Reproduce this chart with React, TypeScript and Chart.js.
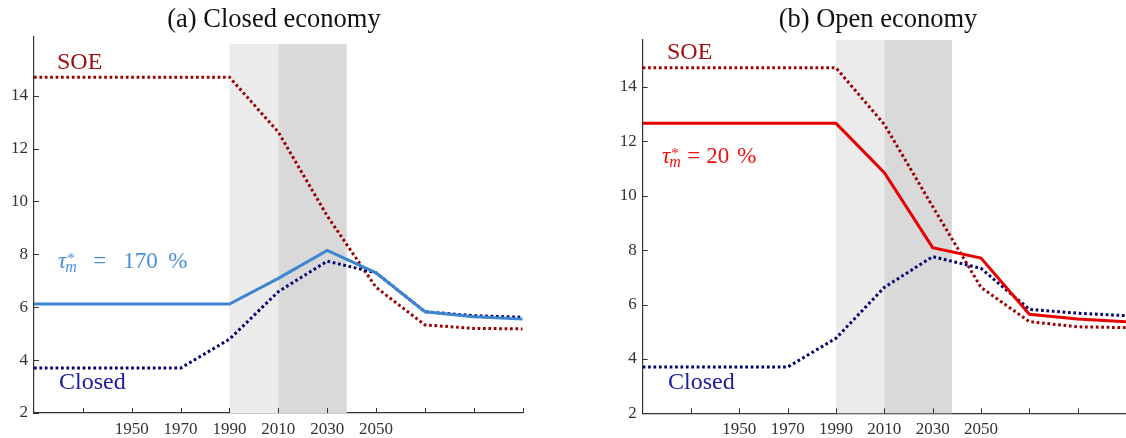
import { useEffect, useRef } from 'react'
import { Chart, registerables } from 'chart.js'
Chart.register(...registerables)

const years = [1910, 1930, 1950, 1970, 1990, 2010, 2030, 2050, 2070, 2090, 2110]
const xTicks = [1930, 1950, 1970, 1990, 2010, 2030, 2050, 2070, 2090, 2110]
const xLabels = [1950, 1970, 1990, 2010, 2030, 2050]
const yTicks = [2, 4, 6, 8, 10, 12, 14]

// panel (a) closed economy
const soeA = [14.7, 14.7, 14.7, 14.7, 14.7, 12.62, 9.45, 6.75, 5.33, 5.2, 5.18]
const closedA = [3.7, 3.7, 3.7, 3.7, 4.79, 6.59, 7.74, 7.3, 5.83, 5.68, 5.62]
const tauA = [6.12, 6.12, 6.12, 6.12, 6.12, 7.09, 8.15, 7.3, 5.83, 5.64, 5.55]

// panel (b) open economy
const soeB = [14.7, 14.7, 14.7, 14.7, 14.7, 12.62, 9.6, 6.63, 5.37, 5.18, 5.15]
const closedB = [3.7, 3.7, 3.7, 3.7, 4.76, 6.63, 7.76, 7.33, 5.82, 5.68, 5.59]
const tauB = [12.66, 12.66, 12.66, 12.66, 12.66, 10.85, 8.09, 7.71, 5.64, 5.47, 5.37]

// shaded periods
const shadeLight = [1990, 2010]
const shadeDark = [2010, 2038]

const SERIF = '"Liberation Serif", "DejaVu Serif", serif'
const C_SOE = '#9a0000'
const C_CLOSED = '#000070'

interface PanelProps {
  left: number
  width: number
  yWidth: number
  padTop: number
  padRight: number
  xHeight: number
  yMax: number
  shadeTop: number
  soe: number[]
  closed: number[]
  tau: number[]
  tauColor: string
}

function Panel(p: PanelProps) {
  const ref = useRef<HTMLCanvasElement>(null)

  useEffect(() => {
    if (!ref.current) return
    const shading = {
      id: 'shading',
      beforeDatasetsDraw(chart: any) {
        const { ctx, scales: { x, y } } = chart
        const top = y.getPixelForValue(p.shadeTop)
        const bot = y.getPixelForValue(2)
        ctx.save()
        ctx.fillStyle = '#ebebeb'
        const l1 = x.getPixelForValue(shadeLight[0]), r1 = x.getPixelForValue(shadeLight[1])
        ctx.fillRect(l1, top, r1 - l1, bot - top)
        ctx.fillStyle = '#d9d9d9'
        const l2 = x.getPixelForValue(shadeDark[0]), r2 = x.getPixelForValue(shadeDark[1])
        ctx.fillRect(l2, top, r2 - l2, bot - top)
        ctx.restore()
      },
    }
    // ticks point inwards, matlab style
    const inTicks = {
      id: 'inTicks',
      afterDraw(chart: any) {
        const { ctx, scales: { x, y }, chartArea } = chart
        ctx.save()
        ctx.strokeStyle = '#333'
        ctx.lineWidth = 1
        ctx.beginPath()
        x.ticks.forEach((t: any) => {
          const px = Math.round(x.getPixelForValue(t.value)) + 0.5
          ctx.moveTo(px, chartArea.bottom)
          ctx.lineTo(px, chartArea.bottom - 5)
        })
        y.ticks.forEach((t: any) => {
          const py = Math.round(y.getPixelForValue(t.value)) + 0.5
          ctx.moveTo(chartArea.left, py)
          ctx.lineTo(chartArea.left + 5, py)
        })
        ctx.stroke()
        ctx.restore()
      },
    }
    const pts = (arr: number[]) => arr.map((v, i) => ({ x: years[i], y: v }))
    const chart = new Chart(ref.current, {
      type: 'line',
      data: {
        datasets: [
          { data: pts(p.tau), borderColor: p.tauColor, borderWidth: 3, pointRadius: 0, fill: false, tension: 0 },
          { data: pts(p.closed), borderColor: C_CLOSED, borderWidth: 3, borderDash: [2.7, 2.7], pointRadius: 0, fill: false },
          { data: pts(p.soe), borderColor: C_SOE, borderWidth: 3, borderDash: [2.7, 2.7], pointRadius: 0, fill: false },
        ],
      },
      options: {
        animation: false,
        responsive: true,
        maintainAspectRatio: false,
        layout: { padding: { top: p.padTop, right: p.padRight, left: 0, bottom: 0 } },
        plugins: { legend: { display: false }, tooltip: { enabled: false } },
        scales: {
          x: {
            type: 'linear', min: 1910, max: 2110,
            grid: { display: false, drawTicks: false },
            border: { display: true, color: '#333', width: 1.2 },
            afterBuildTicks: (s: any) => { s.ticks = xTicks.map(v => ({ value: v })) },
            afterFit: (s: any) => { s.height = p.xHeight },
            ticks: {
              autoSkip: false, maxRotation: 0, padding: 6, color: '#333',
              font: { family: SERIF, size: 17 },
              callback: (v: any) => xLabels.includes(Number(v)) ? String(v) : '',
            },
          },
          y: {
            min: 2, max: p.yMax,
            grid: { display: false, drawTicks: false },
            border: { display: true, color: '#333', width: 1.2 },
            afterBuildTicks: (s: any) => { s.ticks = yTicks.map(v => ({ value: v })) },
            afterFit: (s: any) => { s.width = p.yWidth },
            ticks: { padding: 6, color: '#333', font: { family: SERIF, size: 17 } },
          },
        },
      },
      plugins: [shading, inTicks],
    } as any)
    return () => chart.destroy()
  }, [])

  return (
    <div style={{ position: 'absolute', left: p.left, top: 0, width: p.width, height: 438 }}>
      <canvas ref={ref} />
    </div>
  )
}

function Label({ x, base, color, size = 24, children }: { x: number; base: number; color: string; size?: number; children: any }) {
  return (
    <div style={{ position: 'absolute', left: x, top: base - 0.8375 * size, fontFamily: SERIF, fontSize: size, lineHeight: 1, color, whiteSpace: 'nowrap' }}>
      {children}
    </div>
  )
}

function Tau({ val, gaps }: { val: string; gaps: number[] }) {
  return (
    <>
      <i>τ</i>
      <span style={{ position: 'relative', display: 'inline-block', width: 14 }}>
        <span style={{ position: 'absolute', left: 1, top: -16.5, fontSize: 15 }}>*</span>
        <i style={{ position: 'absolute', left: -1, top: -8.6, fontSize: 16 }}>m</i>
      </span>
      <span style={{ marginLeft: gaps[0] }}>=</span>
      <span style={{ marginLeft: gaps[1] }}>{val}</span>
      <span style={{ marginLeft: gaps[2] }}>%</span>
    </>
  )
}

export default function App() {
  return (
    <div style={{ position: 'fixed', left: 0, top: 0, width: 1126, height: 438, background: '#fff', overflow: 'hidden' }}>
      <Panel left={0} width={540} yWidth={34} padTop={36.7} padRight={17.3} xHeight={25} yMax={16.23} shadeTop={15.95}
        soe={soeA} closed={closedA} tau={tauA} tauColor="#3d85d1" />
      <Panel left={600} width={540} yWidth={42.7} padTop={39.3} padRight={14} xHeight={24.7} yMax={15.75} shadeTop={15.72}
        soe={soeB} closed={closedB} tau={tauB} tauColor="#e60000" />

      <div style={{ position: 'absolute', left: 0, width: 548, top: 27 - 0.8375 * 26.5, textAlign: 'center', fontFamily: SERIF, fontSize: 26.5, lineHeight: 1, color: '#111' }}>(a) Closed economy</div>
      <div style={{ position: 'absolute', left: 678, width: 400, top: 27 - 0.8375 * 26.5, textAlign: 'center', fontFamily: SERIF, fontSize: 26.5, lineHeight: 1, color: '#111' }}>(b) Open economy</div>

      <Label x={57} base={69} color="#a01010">SOE</Label>
      <Label x={58} base={268} size={23} color="#4a8fd8"><Tau val="170" gaps={[13, 17, 10.5]} /></Label>
      <Label x={59} base={389} color="#1a1aa0">Closed</Label>

      <Label x={667} base={59} color="#a01010">SOE</Label>
      <Label x={662} base={163} size={23} color="#f01010"><Tau val="20" gaps={[3, 6, 8]} /></Label>
      <Label x={668} base={389} color="#1a1aa0">Closed</Label>
    </div>
  )
}
